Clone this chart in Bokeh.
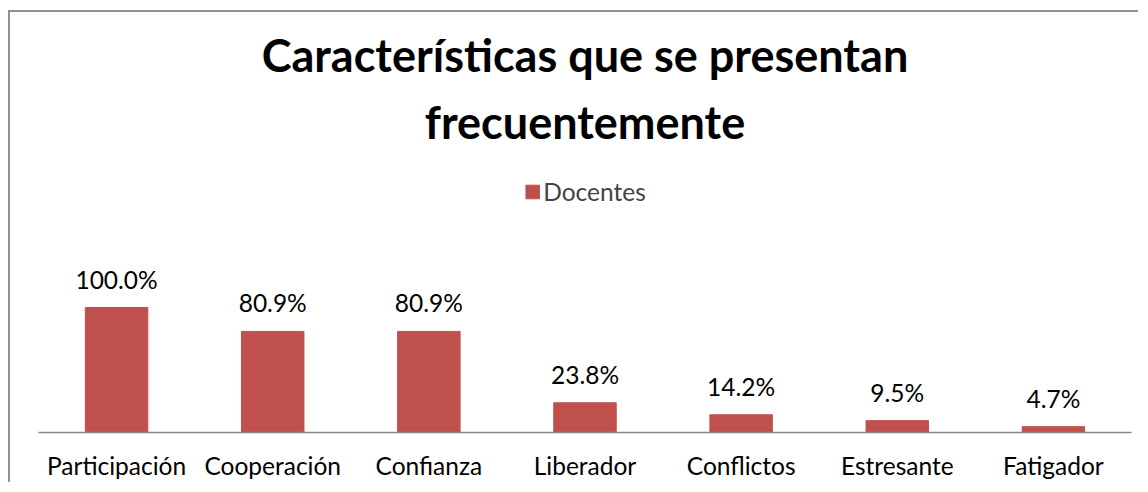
from bokeh.plotting import figure
from bokeh.models import ColumnDataSource, FactorRange, Range1d, Title, Legend, LegendItem, LabelSet
from bokeh.core.properties import value
from bokeh.embed import file_html
from bokeh.resources import INLINE

categories = ["Participación", "Cooperación", "Confianza", "Liberador", "Conflictos", "Estresante", "Fatigador"]
docentes = [100.0, 80.9, 80.9, 23.8, 14.2, 9.5, 4.7]
labels = [f"{v:.1f}%" for v in docentes]
series_name = "Docentes"
title_lines = ["Características que se presentan", "frecuentemente"]

FONT = "Lato"
BAR = "#C0504D"

src = ColumnDataSource(dict(cat=categories, val=docentes, lab=labels))

frame_top = 141      # content coords
frame_bottom = 420
y_end = (frame_bottom - frame_top) / 125 * 100

p = figure(x_range=FactorRange(factors=categories, range_padding=0),
           y_range=Range1d(0, y_end),
           width=1130, height=472, output_backend="svg", toolbar_location=None,
           min_border_left=28, min_border_right=9, min_border_bottom=52, min_border_top=frame_top,
           title=None)
p.styles = {"margin-left": "8px", "margin-top": "10px",
            "border-top": "2px solid #909090", "border-left": "2px solid #909090"}

r = p.vbar(x="cat", top="val", width=0.4, source=src, color=BAR)

p.add_layout(LabelSet(x="cat", y="val", text="lab", source=src, y_offset=19,
                      text_align="center", text_baseline="alphabetic",
                      text_font=value(FONT), text_font_size="24.5px", text_color="#000000"))

legend = Legend(items=[LegendItem(label=series_name, renderers=[r])], location="top_center",
                label_text_font=FONT, label_text_font_size="24.5px", glyph_width=17, glyph_height=17,
                border_line_color=None, background_fill_alpha=0, margin=24, padding=0, label_standoff=3)
p.add_layout(legend)

p.add_layout(Title(text=title_lines[1], align="center", text_font=FONT, text_font_size="45px",
                   text_font_style="bold", text_color="#000000", standoff=10), "above")
p.add_layout(Title(text=title_lines[0], align="center", text_font=FONT, text_font_size="45px",
                   text_font_style="bold", text_color="#000000", standoff=11), "above")

p.yaxis.visible = False
p.xgrid.visible = False
p.ygrid.visible = False
p.outline_line_color = None
ax = p.xaxis[0]
ax.axis_line_color = "#868686"
ax.axis_line_width = 1.5
ax.major_tick_line_color = None
ax.minor_tick_line_color = None
ax.major_label_text_font = FONT
ax.major_label_text_font_size = "24.5px"
ax.major_label_text_color = "#000000"
ax.major_label_standoff = 12
ax.major_label_orientation = "horizontal"

open("out.html", "w").write(file_html(p, INLINE))
